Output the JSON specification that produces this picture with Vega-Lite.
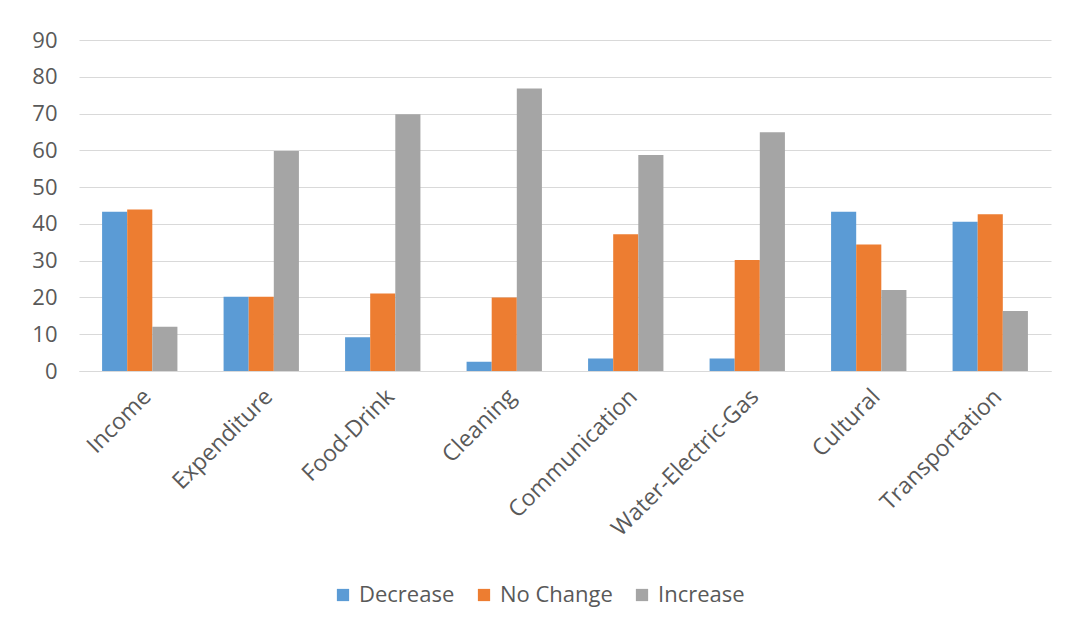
{
  "$schema": "https://vega.github.io/schema/vega-lite/v6.json",
  "width": 972,
  "height": 331,
  "padding": {"left": 31, "top": 29, "right": 22, "bottom": 10},
  "background": "white",
  "config": {
    "view": {"stroke": null},
    "font": "Open Sans",
    "axis": {"labelFont": "Open Sans", "labelColor": "#595959", "labelFontSize": 22},
    "legend": {"labelFont": "Open Sans", "labelColor": "#595959", "labelFontSize": 22}
  },
  "data": {
    "values": [
      {"category": "Income", "type": "Decrease", "value": 43.3},
      {"category": "Income", "type": "No Change", "value": 43.9},
      {"category": "Income", "type": "Increase", "value": 12.0},
      {"category": "Expenditure", "type": "Decrease", "value": 20.2},
      {"category": "Expenditure", "type": "No Change", "value": 20.2},
      {"category": "Expenditure", "type": "Increase", "value": 59.8},
      {"category": "Food-Drink", "type": "Decrease", "value": 9.2},
      {"category": "Food-Drink", "type": "No Change", "value": 21.1},
      {"category": "Food-Drink", "type": "Increase", "value": 69.8},
      {"category": "Cleaning", "type": "Decrease", "value": 2.5},
      {"category": "Cleaning", "type": "No Change", "value": 20.0},
      {"category": "Cleaning", "type": "Increase", "value": 76.8},
      {"category": "Communication", "type": "Decrease", "value": 3.4},
      {"category": "Communication", "type": "No Change", "value": 37.2},
      {"category": "Communication", "type": "Increase", "value": 58.7},
      {"category": "Water-Electric-Gas", "type": "Decrease", "value": 3.4},
      {"category": "Water-Electric-Gas", "type": "No Change", "value": 30.2},
      {"category": "Water-Electric-Gas", "type": "Increase", "value": 64.9},
      {"category": "Cultural", "type": "Decrease", "value": 43.3},
      {"category": "Cultural", "type": "No Change", "value": 34.4},
      {"category": "Cultural", "type": "Increase", "value": 22.0},
      {"category": "Transportation", "type": "Decrease", "value": 40.6},
      {"category": "Transportation", "type": "No Change", "value": 42.6},
      {"category": "Transportation", "type": "Increase", "value": 16.3}
    ]
  },
  "mark": {"type": "bar"},
  "encoding": {
    "x": {
      "field": "category",
      "type": "nominal",
      "sort": null,
      "title": null,
      "scale": {"paddingInner": 0.38, "paddingOuter": 0.19},
      "axis": {"labelAngle": -45, "ticks": false, "domainColor": "#d9d9d9", "labelPadding": 14, "labelFontSize": 23, "labelLimit": 400}
    },
    "xOffset": {
      "field": "type",
      "sort": ["Decrease", "No Change", "Increase"],
      "scale": {"paddingInner": 0, "paddingOuter": 0}
    },
    "y": {
      "field": "value",
      "type": "quantitative",
      "title": null,
      "scale": {"domain": [0, 90], "nice": false},
      "axis": {"values": [0, 10, 20, 30, 40, 50, 60, 70, 80, 90], "ticks": false, "domain": false, "gridColor": "#d9d9d9", "labelPadding": 22}
    },
    "color": {
      "field": "type",
      "type": "nominal",
      "sort": ["Decrease", "No Change", "Increase"],
      "scale": {"domain": ["Decrease", "No Change", "Increase"], "range": ["#5B9BD5", "#ED7D31", "#A5A5A5"]},
      "legend": {"title": null, "orient": "none", "legendX": 253, "legendY": 544, "direction": "horizontal", "symbolType": "square", "symbolSize": 150, "symbolStrokeWidth": 0, "columnPadding": 18, "labelOffset": 5}
    }
  }
}
